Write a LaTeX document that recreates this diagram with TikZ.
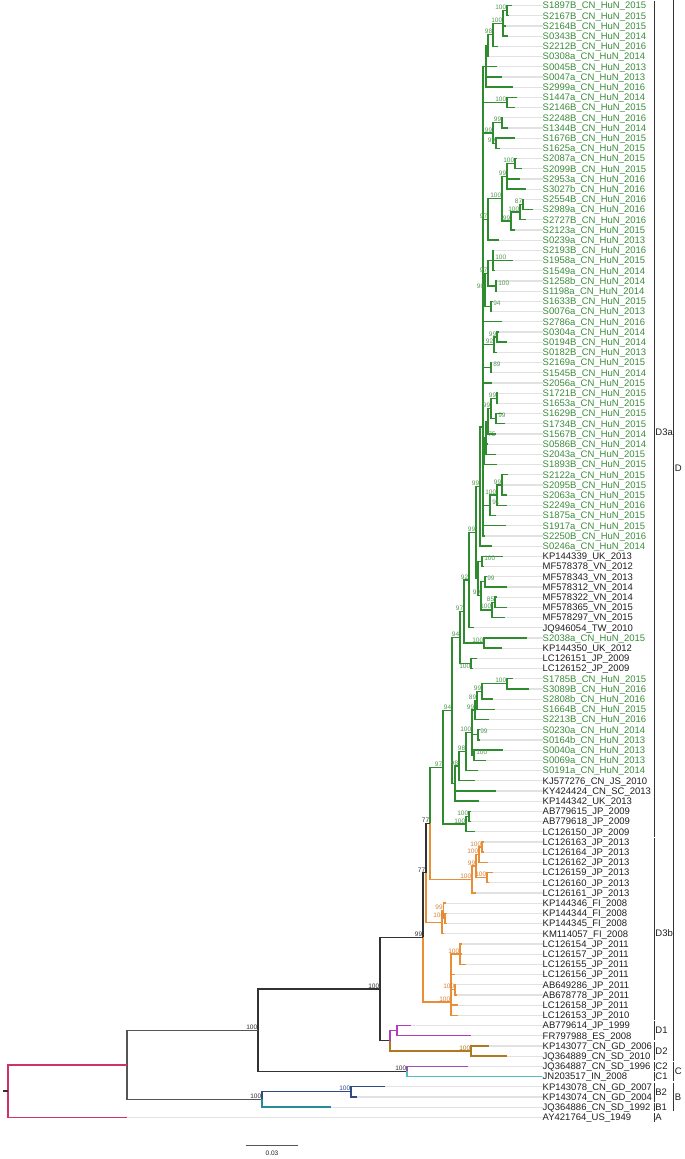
\documentclass[tikz,border=0pt]{standalone}
\usepackage{fontspec}
\setmainfont{Liberation Sans}
\definecolor{grn}{RGB}{46,139,46}
\definecolor{grntx}{RGB}{58,140,58}
\definecolor{grnsup}{RGB}{85,150,85}
\definecolor{org}{RGB}{233,142,52}
\definecolor{orgsup}{RGB}{214,128,64}
\definecolor{blk}{RGB}{50,50,50}
\definecolor{gry}{RGB}{85,85,85}
\definecolor{txt}{RGB}{30,30,30}
\definecolor{purD}{RGB}{178,60,190}
\definecolor{brnD}{RGB}{176,120,32}
\definecolor{purC}{RGB}{155,80,185}
\definecolor{tealC}{RGB}{80,190,190}
\definecolor{navB}{RGB}{45,75,135}
\definecolor{tealB}{RGB}{40,140,150}
\definecolor{pinkA}{RGB}{208,50,100}
\definecolor{guide}{RGB}{226,226,226}
\newdimen\tya \newdimen\tyb
\newcommand\mkn[4]{%
  \pgfextracty{\tya}{\pgfpointanchor{#3}{center}}%
  \pgfextracty{\tyb}{\pgfpointanchor{#4}{center}}%
  \pgfmathsetmacro\tymid{(\tya+\tyb)/2}%
  \coordinate (#1) at (#2pt,\tymid pt);}
\newcommand\leaf[4]{%
  \pgfmathsetmacro\ly{5.5+(#1-1)*10.2}%
  \coordinate (L#1) at (#2,\ly);
  \node[lab,text=#4] (T#1) at (542.5,\ly) {#3};
  \draw[guideln] (L#1) -- (T#1.west);}
\newcommand\edg[3]{\foreach \cc in {#3}{\draw[br,draw=#1] (#2) |- (\cc);}}
\newcommand\SUP[3]{\node[sup,text=#1] at (#2) {#3};}
\newcommand\SUPR[3]{\node[supr,text=#1] at (#2) {#3};}
\newcommand\clb[5]{% x y1 y2 label ylabel
  \draw[bar] (#1,#2) -- (#1,#3);
  \node[blab] at (#1+1.2,#5) {#4};}
\tikzset{
  br/.style={line width=1.3pt},
  lab/.style={font=\fontsize{9.5}{10}\selectfont, inner sep=0pt, anchor=west, text height=7.4pt, text depth=0.6pt},
  sup/.style={font=\fontsize{6.5}{7}\selectfont, inner sep=0.6pt, anchor=south east},
  supr/.style={sup, anchor=south west, xshift=1.5pt},
  guideln/.style={draw=guide, line width=1.2pt},
  bar/.style={draw=blk, line width=0.9pt},
  blab/.style={font=\fontsize{9.5}{10}\selectfont, inner sep=0pt, anchor=west, text=txt}
}
\begin{document}
\begin{tikzpicture}[x=1pt,y=-1pt]
\useasboundingbox (0,0) rectangle (685,1159);
\leaf{1}{512}{S1897B\_CN\_HuN\_2015}{grntx}
\leaf{2}{509}{S2167B\_CN\_HuN\_2015}{grntx}
\leaf{3}{506}{S2164B\_CN\_HuN\_2015}{grntx}
\leaf{4}{508}{S0343B\_CN\_HuN\_2014}{grntx}
\leaf{5}{498}{S2212B\_CN\_HuN\_2016}{grntx}
\leaf{6}{489}{S0308a\_CN\_HuN\_2014}{grntx}
\leaf{7}{497}{S0045B\_CN\_HuN\_2013}{grntx}
\leaf{8}{502}{S0047a\_CN\_HuN\_2013}{grntx}
\leaf{9}{513}{S2999a\_CN\_HuN\_2016}{grntx}
\leaf{10}{517}{S1447a\_CN\_HuN\_2014}{grntx}
\leaf{11}{515}{S2146B\_CN\_HuN\_2015}{grntx}
\leaf{12}{503}{S2248B\_CN\_HuN\_2016}{grntx}
\leaf{13}{508}{S1344B\_CN\_HuN\_2014}{grntx}
\leaf{14}{515}{S1676B\_CN\_HuN\_2015}{grntx}
\leaf{15}{500}{S1625a\_CN\_HuN\_2015}{grntx}
\leaf{16}{517}{S2087a\_CN\_HuN\_2015}{grntx}
\leaf{17}{522}{S2099B\_CN\_HuN\_2015}{grntx}
\leaf{18}{520}{S2953a\_CN\_HuN\_2016}{grntx}
\leaf{19}{526}{S3027b\_CN\_HuN\_2016}{grntx}
\leaf{20}{524}{S2554B\_CN\_HuN\_2016}{grntx}
\leaf{21}{533}{S2989a\_CN\_HuN\_2016}{grntx}
\leaf{22}{526}{S2727B\_CN\_HuN\_2016}{grntx}
\leaf{23}{515}{S2123a\_CN\_HuN\_2015}{grntx}
\leaf{24}{499}{S0239a\_CN\_HuN\_2013}{grntx}
\leaf{25}{494}{S2193B\_CN\_HuN\_2016}{grntx}
\leaf{26}{513}{S1958a\_CN\_HuN\_2015}{grntx}
\leaf{27}{495}{S1549a\_CN\_HuN\_2014}{grntx}
\leaf{28}{497}{S1258b\_CN\_HuN\_2014}{grntx}
\leaf{29}{497}{S1198a\_CN\_HuN\_2014}{grntx}
\leaf{30}{493}{S1633B\_CN\_HuN\_2015}{grntx}
\leaf{31}{492}{S0076a\_CN\_HuN\_2013}{grntx}
\leaf{32}{502}{S2786a\_CN\_HuN\_2016}{grntx}
\leaf{33}{499}{S0304a\_CN\_HuN\_2014}{grntx}
\leaf{34}{507}{S0194B\_CN\_HuN\_2014}{grntx}
\leaf{35}{497}{S0182B\_CN\_HuN\_2013}{grntx}
\leaf{36}{492}{S2169a\_CN\_HuN\_2015}{grntx}
\leaf{37}{492}{S1545B\_CN\_HuN\_2014}{grntx}
\leaf{38}{492}{S2056a\_CN\_HuN\_2015}{grntx}
\leaf{39}{498}{S1721B\_CN\_HuN\_2015}{grntx}
\leaf{40}{498}{S1653a\_CN\_HuN\_2015}{grntx}
\leaf{41}{503}{S1629B\_CN\_HuN\_2015}{grntx}
\leaf{42}{505}{S1734B\_CN\_HuN\_2015}{grntx}
\leaf{43}{496}{S1567B\_CN\_HuN\_2014}{grntx}
\leaf{44}{488}{S0586B\_CN\_HuN\_2014}{grntx}
\leaf{45}{496}{S2043a\_CN\_HuN\_2015}{grntx}
\leaf{46}{497}{S1893B\_CN\_HuN\_2015}{grntx}
\leaf{47}{508}{S2122a\_CN\_HuN\_2015}{grntx}
\leaf{48}{502}{S2095B\_CN\_HuN\_2015}{grntx}
\leaf{49}{507}{S2063a\_CN\_HuN\_2015}{grntx}
\leaf{50}{507}{S2249a\_CN\_HuN\_2016}{grntx}
\leaf{51}{496}{S1875a\_CN\_HuN\_2015}{grntx}
\leaf{52}{506}{S1917a\_CN\_HuN\_2015}{grntx}
\leaf{53}{485}{S2250B\_CN\_HuN\_2016}{grntx}
\leaf{54}{492}{S0246a\_CN\_HuN\_2014}{grntx}
\leaf{55}{503}{KP144339\_UK\_2013}{txt}
\leaf{56}{484}{MF578378\_VN\_2012}{txt}
\leaf{57}{487}{MF578343\_VN\_2013}{txt}
\leaf{58}{507}{MF578312\_VN\_2014}{txt}
\leaf{59}{497}{MF578322\_VN\_2014}{txt}
\leaf{60}{507}{MF578365\_VN\_2015}{txt}
\leaf{61}{505}{MF578297\_VN\_2015}{txt}
\leaf{62}{474}{JQ946054\_TW\_2010}{txt}
\leaf{63}{527}{S2038a\_CN\_HuN\_2015}{grntx}
\leaf{64}{502}{KP144350\_UK\_2012}{txt}
\leaf{65}{477}{LC126151\_JP\_2009}{txt}
\leaf{66}{473}{LC126152\_JP\_2009}{txt}
\leaf{67}{513}{S1785B\_CN\_HuN\_2015}{grntx}
\leaf{68}{529}{S3089B\_CN\_HuN\_2016}{grntx}
\leaf{69}{493}{S2808b\_CN\_HuN\_2016}{grntx}
\leaf{70}{495}{S1664B\_CN\_HuN\_2015}{grntx}
\leaf{71}{489}{S2213B\_CN\_HuN\_2016}{grntx}
\leaf{72}{480}{S0230a\_CN\_HuN\_2014}{grntx}
\leaf{73}{480}{S0164b\_CN\_HuN\_2013}{grntx}
\leaf{74}{503}{S0040a\_CN\_HuN\_2013}{grntx}
\leaf{75}{486}{S0069a\_CN\_HuN\_2013}{grntx}
\leaf{76}{478}{S0191a\_CN\_HuN\_2014}{grntx}
\leaf{77}{475}{KJ577276\_CN\_JS\_2010}{txt}
\leaf{78}{496}{KY424424\_CN\_SC\_2013}{txt}
\leaf{79}{479}{KP144342\_UK\_2013}{txt}
\leaf{80}{471}{AB779615\_JP\_2009}{txt}
\leaf{81}{471}{AB779618\_JP\_2009}{txt}
\leaf{82}{475}{LC126150\_JP\_2009}{txt}
\leaf{83}{484}{LC126163\_JP\_2013}{txt}
\leaf{84}{484}{LC126164\_JP\_2013}{txt}
\leaf{85}{488}{LC126162\_JP\_2013}{txt}
\leaf{86}{493}{LC126159\_JP\_2013}{txt}
\leaf{87}{489}{LC126160\_JP\_2013}{txt}
\leaf{88}{476}{LC126161\_JP\_2013}{txt}
\leaf{89}{446}{KP144346\_FI\_2008}{txt}
\leaf{90}{447}{KP144344\_FI\_2008}{txt}
\leaf{91}{447}{KP144345\_FI\_2008}{txt}
\leaf{92}{444}{KM114057\_FI\_2008}{txt}
\leaf{93}{462}{LC126154\_JP\_2011}{txt}
\leaf{94}{462}{LC126157\_JP\_2011}{txt}
\leaf{95}{466}{LC126155\_JP\_2011}{txt}
\leaf{96}{455}{LC126156\_JP\_2011}{txt}
\leaf{97}{456}{AB649286\_JP\_2011}{txt}
\leaf{98}{457}{AB678778\_JP\_2011}{txt}
\leaf{99}{458}{LC126158\_JP\_2011}{txt}
\leaf{100}{458}{LC126153\_JP\_2010}{txt}
\leaf{101}{411}{AB779614\_JP\_1999}{txt}
\leaf{102}{471}{FR797988\_ES\_2008}{txt}
\leaf{103}{489}{KP143077\_CN\_GD\_2006}{txt}
\leaf{104}{507}{JQ364889\_CN\_SD\_2010}{txt}
\leaf{105}{468}{JQ364887\_CN\_SD\_1996}{txt}
\leaf{106}{542}{JN203517\_IN\_2008}{txt}
\leaf{107}{385}{KP143078\_CN\_GD\_2007}{txt}
\leaf{108}{357}{KP143074\_CN\_GD\_2004}{txt}
\leaf{109}{331}{JQ364886\_CN\_SD\_1992}{txt}
\leaf{110}{127}{AY421764\_US\_1949}{txt}
% internal nodes (green D3a)
\mkn{a1}{507}{L1}{L2}
\mkn{a2}{503}{a1}{L4}
\mkn{a3}{493}{a2}{L5}
\mkn{a4}{488}{a3}{L6}
\mkn{a5}{486}{a4}{L9}
\mkn{b0}{507}{L10}{L11}
\mkn{b1}{502}{L12}{L13}
\mkn{b3}{496}{L14}{L15}
\mkn{b2}{493}{b1}{b3}
\mkn{c1}{515}{L16}{L17}
\mkn{c2}{507}{c1}{L19}
\mkn{c3a}{523}{L20}{L21}
\mkn{c3b}{520}{c3a}{L22}
\mkn{c3}{511}{c3b}{L23}
\mkn{c4}{502}{c2}{c3}
\mkn{c5}{488}{c4}{L24}
\mkn{d1}{493}{L25}{L27}
\mkn{d2}{496}{L28}{L29}
\mkn{d3}{488}{d1}{d2}
\mkn{d4}{491}{L30}{L31}
\mkn{d5}{485}{d3}{d4}
\mkn{e1}{497}{L33}{L34}
\mkn{e2}{494}{e1}{L35}
\mkn{ff}{491}{L36}{L37}
\mkn{g1}{497}{L39}{L40}
\mkn{g2}{496}{L41}{L42}
\mkn{g3}{491}{g1}{g2}
\mkn{g4}{488}{g3}{L43}
\mkn{g5}{486}{g4}{L45}
\mkn{g6}{484}{g5}{L46}
\mkn{h1}{502}{L47}{L49}
\mkn{h2}{497}{h1}{L50}
\mkn{h3}{490}{h2}{L51}
\coordinate (m1) at (483,427);
\mkn{m2}{480}{m1}{L54}
\mkn{v1}{482}{L55}{L56}
\mkn{v2}{485}{L57}{L58}
\mkn{v3}{495}{L59}{L60}
\mkn{v4}{492}{v3}{L61}
\mkn{v5}{481}{v2}{v4}
\mkn{vv}{478}{v1}{v5}
\mkn{m3}{476}{m2}{vv}
\mkn{n92}{469}{m3}{L62}
\mkn{w}{484}{L63}{L64}
\mkn{n97}{464}{n92}{w}
\mkn{lc}{471}{L65}{L66}
\mkn{n94a}{460}{n97}{lc}
\mkn{k1}{507}{L67}{L68}
\mkn{k2}{482}{k1}{L69}
\mkn{k3}{477}{k2}{L70}
\mkn{k4}{475}{k3}{L71}
\mkn{k5}{478}{L72}{L73}
\mkn{k6}{474}{L74}{L75}
\mkn{k7}{472}{k4}{k6}
\mkn{k8}{466}{k7}{L76}
\mkn{k9}{459}{k8}{L77}
\mkn{z}{455}{k9}{L79}
\mkn{n94b}{452}{n94a}{z}
\mkn{ab1}{469}{L80}{L81}
\mkn{ab2}{466}{ab1}{L82}
\mkn{gs}{443}{n94b}{ab2}
% orange D3b
\mkn{o1}{482}{L83}{L84}
\mkn{o2}{479}{o1}{L85}
\mkn{o3}{487}{L86}{L87}
\mkn{o4}{476}{o2}{o3}
\mkn{o5}{472}{o4}{L88}
\mkn{n1}{430}{gs}{o5}
\mkn{f1}{445}{L90}{L91}
\mkn{f2}{443.5}{L89}{f1}
\mkn{f3}{442}{f2}{L92}
\mkn{xx}{426}{n1}{f3}
\mkn{j1}{460}{L93}{L95}
\mkn{j2}{455}{L97}{L98}
\coordinate (jj) at (451,1002);
\mkn{d3n}{423}{xx}{jj}
% deeper
\mkn{dA}{397}{L101}{L102}
\mkn{dB}{471}{L103}{L104}
\mkn{dd}{390}{dA}{dB}
\mkn{dn}{380}{d3n}{dd}
\mkn{cn}{407}{L105}{L106}
\mkn{cd}{258}{dn}{cn}
\mkn{b2n}{351}{L107}{L108}
\mkn{bn}{262}{b2n}{L109}
\mkn{bcd}{127}{cd}{bn}
\mkn{rt}{8}{bcd}{L110}
\path (rt) ++(-5,0) coordinate (rts);
% edges green
\edg{grn}{a1}{L1,L2}
\edg{grn}{a2}{a1,L3,L4}
\edg{grn}{a3}{a2,L5}
\edg{grn}{a4}{a3,L6}
\edg{grn}{a5}{a4,L7,L8,L9}
\edg{grn}{b0}{L10,L11}
\edg{grn}{b1}{L12,L13}
\edg{grn}{b3}{L14,L15}
\edg{grn}{b2}{b1,b3}
\edg{grn}{c1}{L16,L17}
\edg{grn}{c2}{c1,L18,L19}
\edg{grn}{c3a}{L20,L21}
\edg{grn}{c3b}{c3a,L22}
\edg{grn}{c3}{c3b,L23}
\edg{grn}{c4}{c2,c3}
\edg{grn}{c5}{c4,L24}
\edg{grn}{d1}{L25,L26,L27}
\edg{grn}{d2}{L28,L29}
\edg{grn}{d3}{d1,d2}
\edg{grn}{d4}{L30,L31}
\edg{grn}{d5}{d3,d4}
\edg{grn}{e1}{L33,L34}
\edg{grn}{e2}{e1,L35}
\edg{grn}{ff}{L36,L37}
\edg{grn}{g1}{L39,L40}
\edg{grn}{g2}{L41,L42}
\edg{grn}{g3}{g1,g2}
\edg{grn}{g4}{g3,L43}
\edg{grn}{g5}{g4,L44,L45}
\edg{grn}{g6}{g5,L46}
\edg{grn}{h1}{L47,L48,L49}
\edg{grn}{h2}{h1,L50}
\edg{grn}{h3}{h2,L51}
\edg{grn}{m1}{a5,b0,b2,c5,d5,L32,e2,ff,L38,g6,h3,L52,L53}
\edg{grn}{m2}{m1,L54}
\edg{grn}{v1}{L55,L56}
\edg{grn}{v2}{L57,L58}
\edg{grn}{v3}{L59,L60}
\edg{grn}{v4}{v3,L61}
\edg{grn}{v5}{v2,v4}
\edg{grn}{vv}{v1,v5}
\edg{grn}{m3}{m2,vv}
\edg{grn}{n92}{m3,L62}
\edg{grn}{w}{L63,L64}
\edg{grn}{n97}{n92,w}
\edg{grn}{lc}{L65,L66}
\edg{grn}{n94a}{n97,lc}
\edg{grn}{k1}{L67,L68}
\edg{grn}{k2}{k1,L69}
\edg{grn}{k3}{k2,L70}
\edg{grn}{k4}{k3,L71}
\edg{grn}{k5}{L72,L73}
\edg{grn}{k6}{L74,L75}
\edg{grn}{k7}{k4,k5,k6}
\edg{grn}{k8}{k7,L76}
\edg{grn}{k9}{k8,L77}
\edg{grn}{z}{k9,L78,L79}
\edg{grn}{n94b}{n94a,z}
\edg{grn}{ab1}{L80,L81}
\edg{grn}{ab2}{ab1,L82}
\edg{grn}{gs}{n94b,ab2}
\edg{grn}{n1}{gs}
% edges orange
\edg{org}{o1}{L83,L84}
\edg{org}{o2}{o1,L85}
\edg{org}{o3}{L86,L87}
\edg{org}{o4}{o2,o3}
\edg{org}{o5}{o4,L88}
\edg{org}{n1}{o5}
\edg{org}{f1}{L90,L91}
\edg{org}{f2}{L89,f1}
\edg{org}{f3}{f2,L92}
\edg{org}{xx}{f3}
\edg{blk}{xx}{n1}
\edg{org}{j1}{L93,L94,L95}
\edg{org}{j2}{L97,L98}
\edg{org}{jj}{j1,L96,j2,L99,L100}
\edg{org}{d3n}{jj}
\edg{blk}{d3n}{xx}
% edges deeper
\edg{blk}{dn}{d3n,dd}
\edg{purD}{dd}{dA}
\edg{purD}{dA}{L101,L102}
\edg{brnD}{dd}{dB}
\edg{brnD}{dB}{L103,L104}
\edg{blk}{cd}{dn,cn}
\edg{purC}{cn}{L105}
\edg{tealC}{cn}{L106}
\edg{gry}{bcd}{cd,bn}
\edg{navB}{bn}{b2n}
\edg{navB}{b2n}{L107,L108}
\edg{tealB}{bn}{L109}
\edg{pinkA}{rt}{bcd,L110}
\draw[br,draw=blk] (rts) -- (rt);
% support values
\SUP{grnsup}{a1}{100}
\SUP{grnsup}{a2}{100}
\SUP{grnsup}{a3}{98}
\SUP{grnsup}{b0}{100}
\SUP{grnsup}{b1}{99}
\SUP{grnsup}{b2}{99}
\SUP{grnsup}{b3}{99}
\SUP{grnsup}{c1}{100}
\SUP{grnsup}{c2}{99}
\SUP{grnsup}{c3a}{87}
\SUP{grnsup}{c3b}{100}
\SUP{grnsup}{c3}{99}
\SUP{grnsup}{c4}{100}
\SUP{grnsup}{c5}{97}
\SUPR{grnsup}{d1}{100}
\SUPR{grnsup}{d2}{100}
\SUP{grnsup}{d3}{97}
\SUPR{grnsup}{d4}{94}
\SUP{grnsup}{d5}{90}
\SUP{grnsup}{e1}{99}
\SUP{grnsup}{e2}{92}
\SUPR{grnsup}{ff}{89}
\SUP{grnsup}{g1}{99}
\SUPR{grnsup}{g2}{99}
\SUP{grnsup}{g3}{99}
\SUPR{grnsup}{g5}{75}
\SUP{grnsup}{h1}{99}
\SUP{grnsup}{h2}{100}
\SUPR{grnsup}{h3}{91}
\SUP{grnsup}{m2}{99}
\SUPR{grnsup}{v1}{100}
\SUPR{grnsup}{v2}{99}
\SUP{grnsup}{v3}{85}
\SUP{grnsup}{v4}{100}
\SUP{grnsup}{v5}{99}
\SUP{grnsup}{m3}{99}
\SUP{grnsup}{n92}{92}
\SUP{grnsup}{w}{100}
\SUP{grnsup}{n97}{97}
\node[sup,anchor=north east,text=grnsup] at (lc) {100};
\SUP{grnsup}{n94a}{94}
\SUP{grnsup}{k1}{100}
\SUP{grnsup}{k2}{99}
\SUP{grnsup}{k3}{89}
\SUP{grnsup}{k4}{99}
\SUPR{grnsup}{k5}{99}
\SUPR{grnsup}{k6}{100}
\SUP{grnsup}{k7}{100}
\SUP{grnsup}{k8}{98}
\SUP{grnsup}{k9}{98}
\SUP{grnsup}{n94b}{94}
\SUP{grnsup}{ab1}{100}
\SUP{grnsup}{ab2}{100}
\SUP{grnsup}{gs}{97}
\SUP{orgsup}{o1}{100}
\SUP{orgsup}{o2}{100}
\SUP{orgsup}{o4}{99}
\SUP{orgsup}{o3}{100}
\SUP{orgsup}{o5}{100}
\SUP{orgsup}{f1}{100}
\SUP{orgsup}{f2}{99}
\SUP{orgsup}{j1}{100}
\SUP{orgsup}{j2}{100}
\SUP{orgsup}{jj}{100}
\SUP{blk}{n1}{77}
\SUP{blk}{xx}{77}
\SUP{blk}{d3n}{99}
\SUP{blk}{dn}{100}
\SUP{brnD}{dB}{100}
\SUP{blk}{cn}{100}
\SUP{blk}{cd}{100}
\SUP{navB}{b2n}{100}
\SUP{blk}{bn}{100}
% clade bars
\clb{654}{0.5}{836.5}{D3a}{432}
\clb{654}{838}{1019.5}{D3b}{933}
\clb{654}{1021}{1040}{D1}{1030.5}
\clb{654}{1042}{1060}{D2}{1051}
\clb{654}{1062}{1070.5}{C2}{1066}
\clb{654}{1072}{1080.5}{C1}{1076}
\clb{654}{1082.5}{1101.5}{B2}{1092}
\clb{654}{1103}{1111}{B1}{1107}
\clb{654}{1113}{1121.5}{A}{1117}
\clb{673.5}{0}{1060.5}{D}{468}
\clb{673.5}{1062}{1080.5}{C}{1071}
\clb{673.5}{1082.5}{1111}{B}{1097}
% scale bar
\coordinate (sb1) at (246,1145.5);
\coordinate (sb2) at (298,1145.5);
\draw[draw=gry, line width=1pt] (sb1) -- (sb2);
\node[font=\fontsize{6.5}{7}\selectfont, text=txt, inner sep=0pt] (sbl) at (272,1153.5) {0.03};
\end{tikzpicture}
\end{document}
